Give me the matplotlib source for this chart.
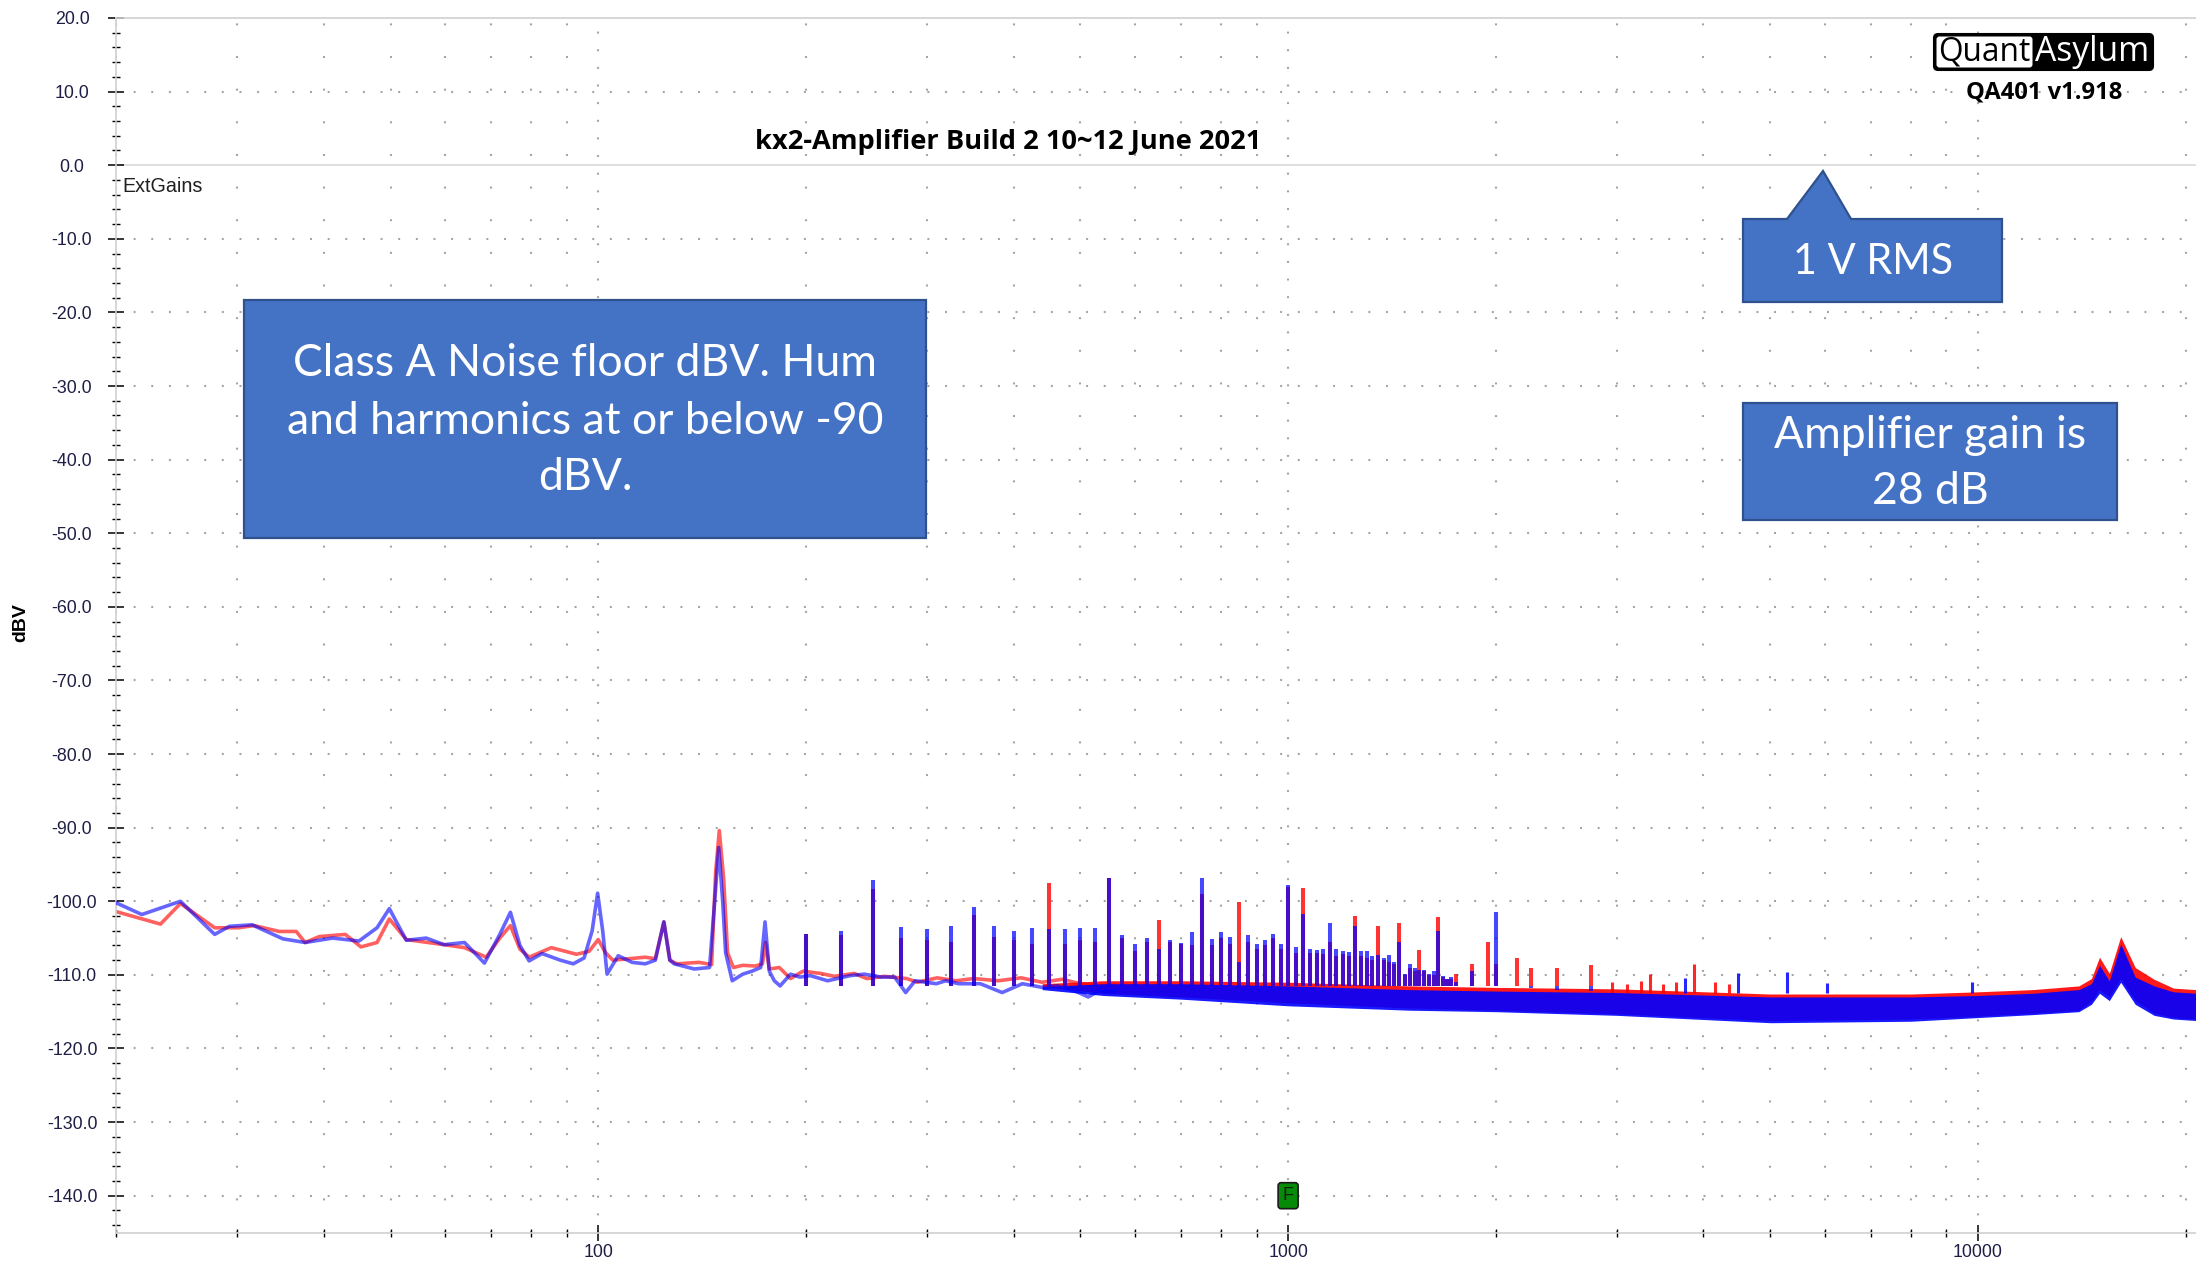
import matplotlib
matplotlib.use("Agg")
import matplotlib.pyplot as plt
from matplotlib.patches import Rectangle, Polygon, FancyBboxPatch
from matplotlib.ticker import FixedLocator, NullFormatter

plt.rcParams['lines.scale_dashes'] = False

# ---------------- data ----------------
title_text = "kx2-Amplifier Build 2 10~12 June 2021"
y_label = "dBV"
y_tick_vals = [20, 10, 0, -10, -20, -30, -40, -50, -60, -70, -80, -90, -100, -110, -120, -130, -140]
y_tick_labels = ["%.1f" % v for v in y_tick_vals]
x_tick_vals = [100, 1000, 10000]
x_tick_labels = ["100", "1000", "10000"]
x_minor_vals = [20, 30, 40, 50, 60, 70, 80, 90,
                200, 300, 400, 500, 600, 700, 800, 900,
                2000, 3000, 4000, 5000, 6000, 7000, 8000, 9000, 20000]

# low-frequency part, blue trace (Hz, dBV)
blue_lf_f = [20.0, 21.8, 24.8, 27.8, 29.2, 31.5, 34.9, 37.6, 41.2, 45.0, 47.8, 49.8, 52.7,
             56.3, 59.8, 64.0, 68.4, 72.0, 74.6, 77.0, 79.4, 82.9, 88.1, 92.0, 95.4, 98.0,
             99.8, 101.5, 103.0, 106.9, 112.0, 117.0, 121.0, 124.5, 127.0, 128.9, 137.8,
             145.0, 147.5, 149.5, 151.5, 153.0, 156.4, 162.0, 167.0, 172.0, 174.5, 177.0,
             180.0, 183.5, 190.0, 196.0, 203.0, 215.0, 232.0, 243.0, 257.0, 269.0, 279.0,
             288.0, 309.0, 319.0, 333.0, 358.0, 385.0, 412.0, 440.0, 463.0, 489.0, 513.0,
             534.0, 560.0]
blue_lf_db = [-100.2, -101.8, -100.0, -104.5, -103.4, -103.2, -105.1, -105.6, -105.0, -105.4,
              -103.6, -101.0, -105.3, -105.0, -105.9, -105.6, -108.4, -104.5, -101.5, -106.0,
              -108.1, -107.1, -108.0, -108.5, -107.7, -104.0, -98.9, -104.0, -109.9, -107.4,
              -108.3, -108.5, -108.0, -102.8, -108.0, -108.5, -109.2, -109.0, -100.0, -92.7,
              -100.0, -107.0, -110.8, -109.9, -109.5, -109.0, -102.8, -109.5, -110.8, -111.5,
              -109.9, -110.3, -110.1, -110.8, -110.1, -109.9, -110.3, -110.3, -112.4, -110.8,
              -111.2, -110.8, -111.2, -111.2, -112.4, -111.2, -111.7, -111.5, -112.1, -113.0,
              -112.1, -112.3]

# low-frequency part, red trace (Hz, dBV)
red_lf_f = [20.0, 23.2, 24.8, 27.8, 30.1, 31.7, 34.5, 36.5, 37.6, 39.4, 43.0, 45.3, 47.8,
            49.8, 52.7, 59.8, 64.0, 68.8, 72.0, 74.6, 77.0, 79.4, 85.5, 93.0, 97.0, 100.0,
            102.5, 105.0, 117.0, 121.0, 124.5, 127.0, 130.0, 140.0, 146.0, 148.0, 149.8,
            152.0, 154.0, 157.0, 162.0, 169.0, 173.0, 174.8, 177.0, 183.0, 190.0, 198.0,
            210.0, 220.0, 235.0, 245.0, 260.0, 280.0, 290.0, 310.0, 330.0, 350.0, 380.0,
            410.0, 440.0, 470.0, 500.0, 530.0, 560.0]
red_lf_db = [-101.4, -103.1, -100.3, -103.6, -103.6, -103.3, -104.1, -104.1, -105.6, -104.8,
             -104.5, -106.2, -105.6, -102.4, -105.2, -105.9, -106.3, -107.6, -105.0, -103.3,
             -106.5, -107.6, -106.3, -107.2, -106.8, -105.2, -107.0, -108.0, -107.6, -107.8,
             -102.8, -108.0, -108.5, -108.3, -108.6, -96.0, -90.4, -97.0, -107.0, -109.0,
             -108.7, -108.8, -108.5, -105.6, -109.2, -109.0, -110.5, -109.5, -109.8, -110.2,
             -109.8, -110.5, -110.2, -110.5, -111.0, -110.4, -110.8, -110.5, -110.8, -110.4,
             -111.0, -110.6, -111.2, -111.5, -111.4]

# hum harmonics (25 Hz comb) peak levels
harm_f = [200, 225, 250, 275, 300, 325, 350, 375, 400, 425, 450, 475, 500, 525, 550, 575,
          600, 625, 650, 675, 700, 725, 750, 775, 800, 825, 850, 875, 900, 925, 950, 975,
          1000, 1025, 1050, 1075, 1100, 1125, 1150, 1175, 1200, 1225, 1250, 1275, 1300,
          1325, 1350, 1375, 1400, 1425, 1450, 1475, 1500, 1525, 1550, 1575, 1600, 1625,
          1650, 1675, 1700, 1725, 1750, 1850, 1950, 2000, 2150, 2250, 2450, 2750]
harm_red_db = [-104.4, -104.6, -98.3, -105.0, -105.3, -105.5, -101.9, -104.9, -105.3, -105.8,
               -97.5, -105.8, -105.3, -105.5, -96.8, -105.0, -106.7, -105.5, -102.6, -105.5,
               -105.8, -106.0, -99.0, -106.0, -105.0, -105.8, -100.1, -105.5, -106.5, -106.0,
               -105.0, -106.5, -98.0, -107.0, -98.2, -107.0, -107.0, -107.2, -105.5, -107.5,
               -107.2, -107.5, -102.0, -107.5, -107.7, -108.0, -103.4, -108.0, -108.2, -108.5,
               -103.0, -110.0, -109.0, -109.5, -106.6, -109.5, -110.0, -110.0, -102.1, -110.3,
               -110.5, -110.5, -109.9, -108.5, -105.6, -108.5, -107.7, -109.0, -109.0, -108.6]
harm_blue_db = [-104.4, -104.0, -97.1, -103.5, -103.8, -103.4, -100.8, -103.4, -104.0, -103.6,
                -103.7, -103.7, -103.6, -103.6, -96.8, -104.6, -105.8, -105.0, -106.5, -105.2,
                -105.7, -104.2, -96.9, -105.1, -104.2, -104.9, -108.3, -104.6, -105.8, -105.3,
                -104.4, -105.8, -97.8, -106.2, -101.7, -106.5, -106.6, -106.5, -103.0, -106.5,
                -106.7, -106.9, -103.3, -106.7, -106.8, -107.5, -107.3, -107.7, -107.3, -108.3,
                -105.6, -109.9, -108.5, -109.0, -109.4, -109.4, -109.9, -109.5, -104.0, -110.1,
                -110.5, -110.3, -111.0, -109.5, -111.5, -101.5, -111.5, -111.8, -112.0, -112.2]

# noise band envelope (Hz, dBV)
band_f = [440, 540, 700, 1000, 1500, 2000, 3000, 5000, 8000, 10000, 12000, 14000, 14600,
          15000, 15500, 16100, 16900, 18000, 19200, 20700]
blue_hi = [-111.6, -111.2, -111.2, -111.5, -112.0, -112.2, -112.4, -113.0, -113.0, -112.8,
           -112.5, -112.0, -111.2, -108.7, -110.8, -105.8, -110.3, -111.5, -112.3, -112.5]
blue_lo = [-112.0, -112.8, -113.3, -114.2, -114.8, -115.0, -115.5, -116.5, -116.3, -115.8,
           -115.4, -115.0, -114.0, -112.5, -113.5, -111.0, -114.0, -115.5, -116.0, -116.2]
red_hi = [-111.2, -110.8, -110.8, -111.0, -111.5, -111.7, -111.9, -112.6, -112.6, -112.3,
          -112.0, -111.5, -110.5, -107.6, -109.8, -104.8, -109.0, -110.6, -111.8, -112.0]
red_lo = [-111.6, -112.5, -113.0, -113.8, -114.5, -114.8, -115.3, -116.2, -116.0, -115.6,
          -115.2, -114.8, -113.6, -112.0, -113.0, -110.5, -113.5, -115.2, -115.8, -116.0]

# isolated spurs above the noise band
hf_red_f = [2950, 3100, 3250, 3350, 3500, 3650, 3870, 4150, 4350]
hf_red_db = [-110.9, -111.3, -110.8, -109.9, -111.2, -111.0, -108.5, -111.0, -111.3]
hf_blue_f = [3765, 4490, 5280, 6040, 9800]
hf_blue_db = [-110.4, -109.8, -109.6, -111.1, -110.9]

peak_base_db = -111.5
spur_base_db = -112.5
marker_f, marker_db = 1000, -140

box1_lines = ["Class A Noise floor dBV. Hum", "and harmonics at or below -90", "dBV."]
box2_text = "1 V RMS"
box3_lines = ["Amplifier gain is", "28 dB"]

# ---------------- figure ----------------
W, H = 2196, 1266
fig = plt.figure(figsize=(W / 100, H / 100), dpi=100)
ax = fig.add_axes([116 / W, 1 - 1232.5 / H, (W - 116) / W, (1232.5 - 18) / H])
ax.set_xscale('log')
ax.set_xlim(20, 20700)
ax.set_ylim(-145, 20)

RED = (1.0, 0.0, 0.0)
BLUE = (0.0, 0.0, 1.0)

# grid
dot_col = '#a3a3a3'
for v in y_tick_vals:
    if v == 20:
        continue
    if v == 0:
        ax.axhline(v, color='#d6d6d6', lw=1.1, zorder=0.5)
    else:
        ax.axhline(v, color=dot_col, lw=1.5, ls=(0, (1.4, 11.3)), zorder=0.5)
for v in x_tick_vals:
    ax.axvline(v, color=dot_col, lw=1.5, ls=(0, (1.4, 11.3)), zorder=0.5)
for v in x_minor_vals:
    ax.axvline(v, color=dot_col, lw=1.5, ls=(0, (1.4, 22.1)), zorder=0.5)

# red trace
ax.plot(red_lf_f, red_lf_db, color=RED, alpha=0.62, lw=2.6, zorder=2)
ax.vlines(harm_f, peak_base_db, harm_red_db, color=RED, alpha=0.8, lw=2.9, zorder=2)
ax.fill_between(band_f, red_lo, red_hi, color=RED, alpha=0.9, lw=0, zorder=2)
ax.vlines(hf_red_f, spur_base_db, hf_red_db, color=RED, alpha=0.85, lw=2.2, zorder=2)
# blue trace
ax.plot(blue_lf_f, blue_lf_db, color=BLUE, alpha=0.6, lw=2.6, zorder=3)
ax.fill_between(band_f, blue_lo, blue_hi, color=BLUE, alpha=0.9, lw=0, zorder=3)
ax.vlines(harm_f, peak_base_db, harm_blue_db, color=BLUE, alpha=0.72, lw=2.9, zorder=3)
ax.vlines(hf_blue_f, spur_base_db, hf_blue_db, color=BLUE, alpha=0.85, lw=2.2, zorder=3)

# spines
for s in ('left', 'bottom', 'top'):
    ax.spines[s].set_color('#cfcfcf')
    ax.spines[s].set_linewidth(1.2)
ax.spines['right'].set_visible(False)

# ticks
tick_font = dict(family='Liberation Sans', size=12.8, color='#1e1e46')
ax.set_yticks(y_tick_vals)
ax.set_yticklabels(y_tick_labels, fontdict=tick_font)
ax.yaxis.set_minor_locator(FixedLocator(list(range(-144, 21, 2))))
ax.set_xticks(x_tick_vals)
ax.set_xticklabels(x_tick_labels, fontdict=tick_font)
ax.xaxis.set_minor_locator(FixedLocator(x_minor_vals))
ax.xaxis.set_minor_formatter(NullFormatter())
ax.tick_params(axis='y', which='major', direction='inout', length=11.5, width=1.1, color='black', pad=25.9)
ax.tick_params(axis='y', which='minor', direction='inout', length=5.8, width=1.0, color='black')
ax.tick_params(axis='x', which='major', direction='inout', length=12.2, width=1.1, color='black', pad=2.5)
ax.tick_params(axis='x', which='minor', direction='inout', length=5.5, width=1.0, color='black')
for lab in ax.get_yticklabels():
    lab.set_horizontalalignment('center')

# ---------------- overlay in pixel coordinates ----------------
ov = fig.add_axes([0, 0, 1, 1])
ov.set_xlim(0, W)
ov.set_ylim(H, 0)
ov.set_facecolor('none')
ov.axis('off')
ov.set_zorder(5)

renderer = fig.canvas.get_renderer()


def fit_text(x, y, s, target_w, **kw):
    t = ov.text(x, y, s, **kw)
    w = t.get_window_extent(renderer).width
    t.set_fontsize(t.get_fontsize() * target_w / w)
    return t


# title and labels
fit_text(1008, 142, title_text, 507, ha='center', va='center', family='Open Sans',
         weight='bold', fontsize=16, color='black')
fit_text(122, 187, "ExtGains", 81, ha='left', va='center', family='Liberation Sans',
         fontsize=14, color='#202020')
ov.text(21, 623, y_label, rotation=90, ha='center', va='center', family='Liberation Sans',
        weight='bold', fontsize=14, color='black')

# QuantAsylum logo
ov.add_patch(FancyBboxPatch((1934, 34), 219, 36, boxstyle='round,pad=0,rounding_size=4',
                            fc='black', ec='black', lw=1.5))
ov.add_patch(FancyBboxPatch((1936.5, 36.5), 96, 31, boxstyle='round,pad=0,rounding_size=3',
                            fc='white', ec='none'))
fit_text(1984, 52, "Quant", 92, ha='center', va='center', family='Open Sans', fontsize=22, color='black')
fit_text(2092, 52, "Asylum", 114, ha='center', va='center', family='Open Sans', fontsize=22, color='white')
fit_text(2044, 93, "QA401 v1.918", 156, ha='center', va='center', family='Open Sans',
         weight='bold', fontsize=16, color='black')

# annotation boxes
BOX_FC = '#4472C4'
BOX_EC = '#2F528F'
ov.add_patch(Rectangle((244, 300), 682, 238, fc=BOX_FC, ec=BOX_EC, lw=1.6))
t = fit_text(585, 421, box1_lines[1], 597, ha='center', va='center', family='Lato',
             fontsize=30, color='white')
fs1 = t.get_fontsize()
ov.text(585, 364, box1_lines[0], ha='center', va='center', family='Lato', fontsize=fs1, color='white')
ov.text(585, 478, box1_lines[2], ha='center', va='center', family='Lato', fontsize=fs1, color='white')

ov.add_patch(Polygon([(1743, 219), (1787, 219), (1823, 171), (1851, 219), (2002, 219),
                      (2002, 302), (1743, 302)], closed=True, fc=BOX_FC, ec=BOX_EC, lw=1.6))
fit_text(1873, 262, box2_text, 160, ha='center', va='center', family='Lato', fontsize=30, color='white')

ov.add_patch(Rectangle((1743, 403), 374, 117, fc=BOX_FC, ec=BOX_EC, lw=1.6))
t = fit_text(1930, 435, box3_lines[0], 312, ha='center', va='center', family='Lato',
             fontsize=30, color='white')
ov.text(1930, 491, box3_lines[1], ha='center', va='center', family='Lato',
        fontsize=t.get_fontsize(), color='white')

# generator-frequency marker "F"
px, py = ax.transData.transform((marker_f, marker_db))
cy = H - py
ov.add_patch(FancyBboxPatch((px - 10, cy - 13), 20, 26, boxstyle='round,pad=0,rounding_size=3',
                            fc='#078a07', ec='#1a1a1a', lw=1.2))
ov.text(px, cy, "F", ha='center', va='center', family='Liberation Sans', fontsize=13, color='#102010')

fig.savefig('out.png', dpi=100)
